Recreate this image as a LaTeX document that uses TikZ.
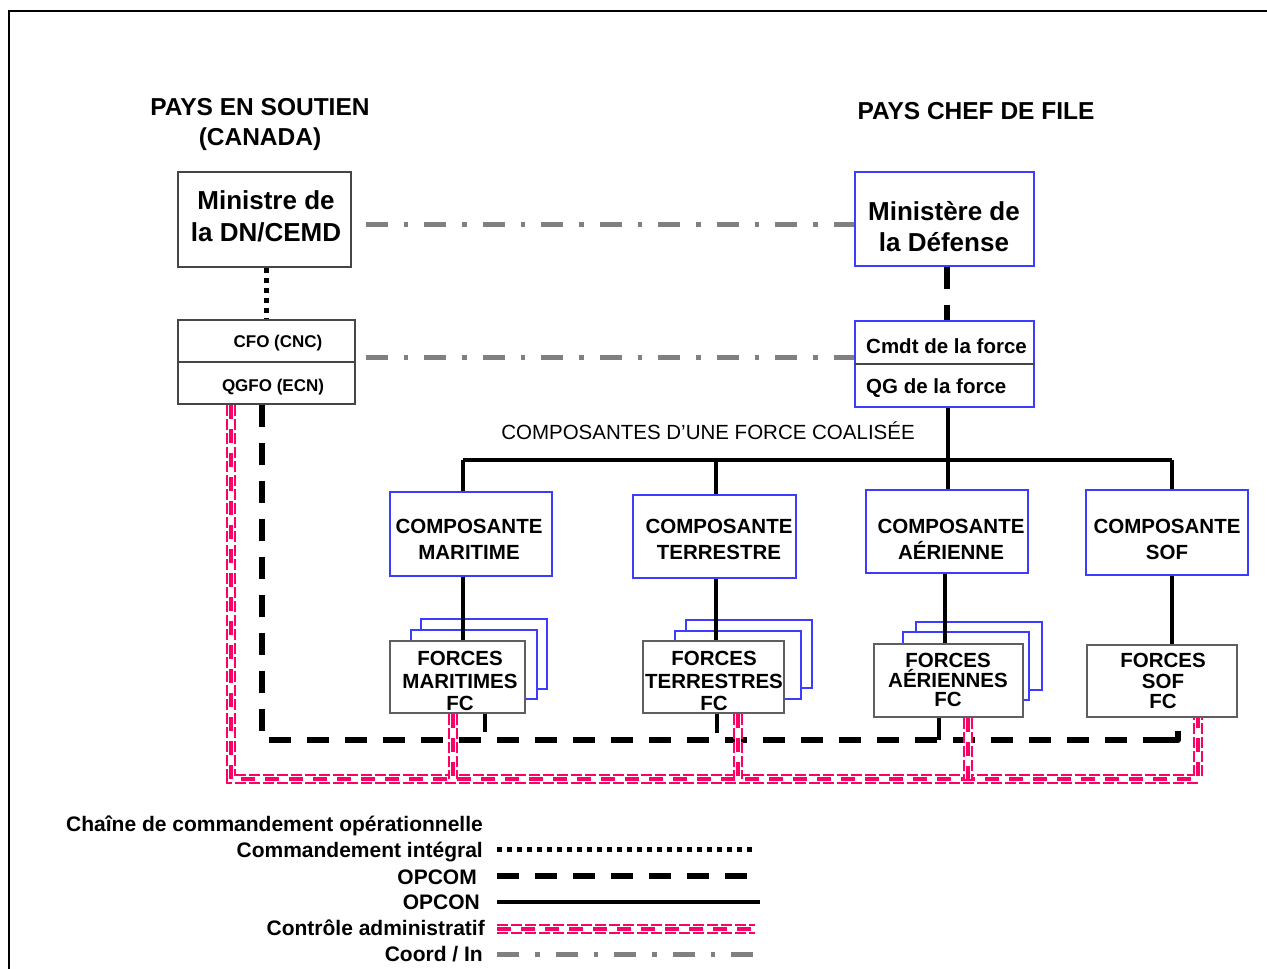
\documentclass[tikz,border=0pt]{standalone}
\usepackage{fontspec}
\setmainfont{Liberation Sans}
\definecolor{boxblue}{RGB}{60,60,255}
\definecolor{boxgrey}{RGB}{70,70,70}
\definecolor{forcegrey}{RGB}{95,95,95}
\definecolor{coordgrey}{RGB}{128,128,128}
\definecolor{adminpink}{RGB}{255,0,102}
\begin{document}
\begin{tikzpicture}[x=1pt,y=-1pt,
  txt/.style 2 args={inner sep=0pt, align=center, font=\fontsize{#1}{#2}\selectfont\bfseries},
  greybox/.style={draw=boxgrey, line width=1.5pt, fill=white, inner sep=0pt},
  bluebox/.style={draw=boxblue, line width=1.3pt, fill=white, inner sep=0pt},
  forcebox/.style={draw=forcegrey, line width=2pt, fill=white, inner sep=0pt},
  shadowbox/.style={draw=boxblue, line width=1.5pt, fill=white, inner sep=0pt},
  integral/.style={draw=black, line width=5pt, dash pattern=on 5pt off 5pt},
  opcom/.style={draw=black, line width=5.5pt, dash pattern=on 22pt off 16pt},
  opcomtick/.style={draw=black, line width=4.5pt},
  opcon/.style={draw=black, line width=4pt},
  coordin/.style={draw=coordgrey, line width=5pt, dash pattern=on 22pt off 16pt on 4.5pt off 16pt},
  admin/.style={postaction={draw=adminpink, line width=10pt, dash pattern=on 11pt off 3pt},
                postaction={draw=white, line width=6pt},
                postaction={draw=adminpink, line width=3.5pt, dash pattern=on 14pt off 10pt}},
  legtxt/.style={inner sep=0pt, anchor=east, font=\fontsize{21}{24}\selectfont\bfseries}]
\useasboundingbox (0,0) rectangle (1267,969);

% outer frame (left and top edges)
\draw[line width=2.5pt] (9,969) -- (9,11) -- (1267,11);

% headings
\node[txt={24.5}{30}] (t1) at (260,124) {PAYS EN SOUTIEN\\(CANADA)};
\node[txt={24.5}{30}] (t2) at (976,111) {PAYS CHEF DE FILE};

% national chain (left)
\node[greybox, minimum width=173pt, minimum height=95pt] (min) at (264.5,219.5) {};
\node[txt={26}{32}] (minT) at (266,216) {Ministre de\\la DN/CEMD};
\node[greybox, minimum width=177pt, minimum height=84pt] (cfo) at (266.5,362) {};
\draw[boxgrey, line width=1.5pt] (cfo.west) -- (cfo.east);
\node[txt={17}{20}] (cfoT) at (278,343) {CFO (CNC)};
\node[txt={17}{20}] (qgfoT) at (273,387) {QGFO (ECN)};

% lead nation chain (right)
\node[bluebox, minimum width=179pt, minimum height=94pt] (mod) at (944.5,219) {};
\node[txt={26}{31}] (modT) at (944,227) {Ministère de\\la Défense};
\node[bluebox, minimum width=179pt, minimum height=86pt] (cmdt) at (944.5,364) {};
\draw[boxgrey, line width=1.5pt] (cmdt.west) -- (cmdt.east);
\node[txt={20.5}{24}, anchor=west] (cmdtT) at (866,346) {Cmdt de la force};
\node[txt={20.5}{24}, anchor=west] (qgT) at (866,388) {QG de la force};

\node[inner sep=0pt, font=\fontsize{20.5}{24}\selectfont] (coal) at (708,431) {COMPOSANTES D’UNE FORCE COALISÉE};

% component commands
\node[bluebox, minimum width=162pt, minimum height=84pt] (cm) at (471,534) {};
\node[txt={20.5}{26}] (cmT) at (469,539) {COMPOSANTE\\MARITIME};
\node[bluebox, minimum width=163pt, minimum height=83pt] (ct) at (714.5,536.5) {};
\node[txt={20.5}{26}] (ctT) at (719,539) {COMPOSANTE\\TERRESTRE};
\node[bluebox, minimum width=162pt, minimum height=83pt] (ca) at (947,531.5) {};
\node[txt={20.5}{26}] (caT) at (951,539) {COMPOSANTE\\AÉRIENNE};
\node[bluebox, minimum width=162pt, minimum height=85pt] (cs) at (1167,532.5) {};
\node[txt={20.5}{26}] (csT) at (1167,539) {COMPOSANTE\\SOF};

% force elements (stacked cards)
\node[shadowbox, minimum width=126pt, minimum height=70pt] (fm2) at (484,654) {};
\node[shadowbox, minimum width=126pt, minimum height=69pt] (fm1) at (474,664.5) {};
\node[forcebox, minimum width=135pt, minimum height=72pt] (fm) at (457.5,677) {};
\node[txt={20.5}{22.5}] (fmT) at (460,681) {FORCES\\MARITIMES\\FC};

\node[shadowbox, minimum width=126pt, minimum height=68pt] (ft2) at (749,654) {};
\node[shadowbox, minimum width=126pt, minimum height=68pt] (ft1) at (738,665) {};
\node[forcebox, minimum width=141pt, minimum height=72pt] (ft) at (713.5,677) {};
\node[txt={20.5}{22.5}] (ftT) at (714,681) {FORCES\\TERRESTRES\\FC};

\node[shadowbox, minimum width=126pt, minimum height=68pt] (fa2) at (979,656) {};
\node[shadowbox, minimum width=126pt, minimum height=68pt] (fa1) at (966,666) {};
\node[forcebox, minimum width=149pt, minimum height=73pt] (fa) at (948.5,680.5) {};
\node[txt={20.5}{19.5}] (faT) at (948,680) {FORCES\\AÉRIENNES\\FC};

\node[forcebox, minimum width=150pt, minimum height=72pt] (fs) at (1162,681) {};
\node[txt={20.5}{20.5}] (fsT) at (1163,681) {FORCES\\SOF\\FC};

% coordination links
\draw[coordin] ([xshift=14pt,yshift=-4.5pt]min.east) -- ([yshift=-5pt]mod.west);
\draw[coordin] ([xshift=10pt,yshift=5pt]cfo.east) -- ([yshift=7pt]cmdt.west);

% full command and OPCOM at the top
\draw[integral] (cfo.north |- min.south) -- (cfo.north);
\draw[opcom] ([xshift=2.5pt]mod.south) -- ([xshift=2.5pt]cmdt.north);

% OPCON tree
\coordinate (busM) at (463,460);
\coordinate (busT) at (716,460);
\coordinate (busA) at (948,460);
\coordinate (busS) at (1172,460);
\draw[opcon] ([xshift=3.5pt]cmdt.south) -- (busA);
\draw[opcon] (busM) -- (busS);
\draw[opcon] (busM) -- (cm.north -| busM);
\draw[opcon] (busT) -- (ct.north -| busT);
\draw[opcon] (busA) -- (ca.north -| busA);
\draw[opcon] (busS) -- (cs.north -| busS);
\draw[opcon] (cm.south -| busM) -- (fm.north -| busM);
\draw[opcon] (ct.south -| busT) -- (ft.north -| busT);
\draw[opcon] ([xshift=-2pt]ca.south) -- ([xshift=-3.5pt]fa.north);
\draw[opcon] (cs.south -| busS) -- (fs.north -| busS);

% OPCOM from the national HQ to the force elements
\coordinate (opL) at (262,740);
\coordinate (opR) at (1178,740);
\coordinate (opE) at (1160,740);
\coordinate (tkM) at (485,732);
\coordinate (tkT) at (717,733);
\coordinate (tkA) at (939,740);
\coordinate (tkS) at (1178,731);
\draw[opcom] ([xshift=-4.5pt]cfo.south) -- (opL) -- (opE);
\draw[opcomtick, line width=5.5pt, line join=round] (opE) -- (opR) -- (tkS);
\draw[opcomtick] (fm.south -| tkM) -- (tkM);
\draw[opcomtick] (ft.south -| tkT) -- (tkT);
\draw[opcomtick] (fa.south -| tkA) -- (tkA);

% administrative control
\coordinate (adL) at (231,779);
\coordinate (adR) at (1198,779);
\coordinate (adM) at (453,779);
\coordinate (adT) at (738,779);
\coordinate (adA) at (968,779);
\path[admin] ([xshift=-35.5pt]cfo.south) -- (adL) -- (adR) -- (fs.south -| adR);
\path[admin] (fm.south -| adM) -- (adM);
\path[admin] (ft.south -| adT) -- (adT);
\path[admin] (fa.south -| adA) -- (adA);

% legend
\node[legtxt] (lg0) at (483,826) {Chaîne de commandement opérationnelle};
\node[legtxt] (lg1) at (483,852) {Commandement intégral};
\node[legtxt] (lg2) at (477,877) {OPCOM};
\node[legtxt] (lg3) at (480,902) {OPCON};
\node[legtxt] (lg4) at (485,928) {Contrôle administratif};
\node[legtxt] (lg5) at (483,954) {Coord / In};
\coordinate (la1) at (497,849); \coordinate (lb1) at (755,849);
\coordinate (la2) at (497,876); \coordinate (lb2) at (748,876);
\coordinate (la3) at (497,902); \coordinate (lb3) at (760,902);
\coordinate (la4) at (497,929); \coordinate (lb4) at (755,929);
\coordinate (la5) at (497,954); \coordinate (lb5) at (760,954);
\draw[integral] (la1) -- (lb1);
\draw[opcom] (la2) -- (lb2);
\draw[opcon] (la3) -- (lb3);
\path[admin] (la4) -- (lb4);
\draw[coordin] (la5) -- (lb5);
\end{tikzpicture}
\end{document}
